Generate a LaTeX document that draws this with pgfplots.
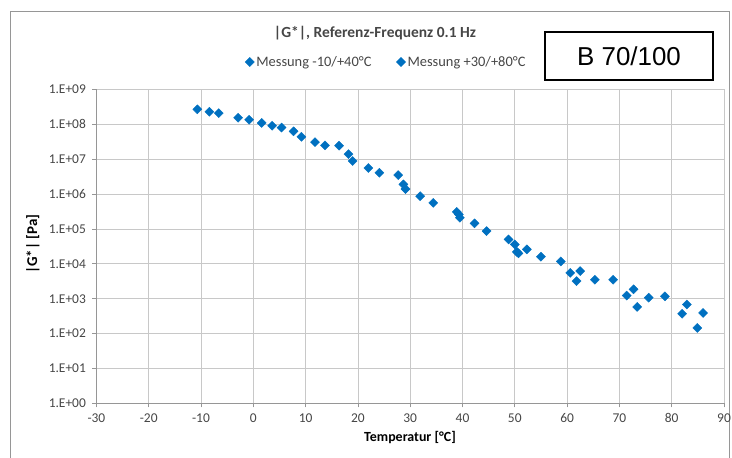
\documentclass[border=0pt]{standalone}
\usepackage{fontspec}
\setmainfont{Carlito}
\newfontfamily\arialfont{Liberation Sans}
\usepackage{pgfplots}
\pgfplotsset{compat=1.18}
\definecolor{mk}{RGB}{0,112,192}
\definecolor{gridc}{RGB}{200,200,200}
\definecolor{axc}{RGB}{150,150,150}
\definecolor{txt}{RGB}{70,70,70}
\begin{document}
\begin{tikzpicture}[x=1bp,y=1bp]
\useasboundingbox (0,0) rectangle (732,458);
\draw[axc, line width=0.9bp] (10,-5) -- (10,447) -- (729,447) -- (729,-5);
\begin{axis}[
  at={(96.4bp,54.7bp)}, anchor=south west,
  scale only axis, width=627.6bp, height=313.8bp,
  xmin=-30, xmax=90, ymode=log, ymin=1, ymax=1e9,
  xtick={-30,-20,...,90},
  ytick={1,10,100,1000,1e4,1e5,1e6,1e7,1e8,1e9},
  yticklabels={1.E+00,1.E+01,1.E+02,1.E+03,1.E+04,1.E+05,1.E+06,1.E+07,1.E+08,1.E+09},
  yminorticks=false,
  grid=major, major grid style={gridc, line width=0.8bp},
  axis lines*=left, axis line style={-, axc, line width=0.8bp},
  tick align=outside, major tick length=4bp, tick style={axc, line width=0.8bp},
  /pgf/number format/assume math mode=true,
  ticklabel style={font=\fontsize{13.5}{15}\selectfont, text=txt},
  xticklabel style={yshift=-3bp},
  yticklabel style={xshift=-3bp},
  legend columns=2,
  legend style={at={(rel axis cs:0.462,1.0876)}, anchor=center, draw=none, fill=none,
    font=\fontsize{14.5}{16}\selectfont, text=txt, /tikz/every even column/.append style={column sep=23bp}},
  legend cell align=left,
  mark size=3.2bp,
]
\addplot[only marks, mark=square*, mark options={rotate=45, fill=mk, draw=mk}] coordinates {
(-10.7,2.7e8) (-8.4,2.3e8) (-6.6,2.1e8) (-2.9,1.55e8) (-0.8,1.35e8)
(1.6,1.1e8) (3.6,9.1e7) (5.4,8.1e7) (7.7,6.3e7) (9.2,4.4e7)
(11.8,3.1e7) (13.7,2.5e7) (16.4,2.45e7) (18.2,1.4e7) (19.0,8.9e6)
(22.0,5.6e6) (24.1,4.1e6) (28.7,1.9e6) (31.9,8.7e5) (34.4,5.6e5)
(39.3,2.6e5)
};
\addlegendentry{Messung -10/+40°C}
\addplot[only marks, mark=square*, mark options={rotate=45, fill=mk, draw=mk}] coordinates {
(27.7,3.5e6) (29.1,1.4e6) (38.9,3.1e5) (39.5,2.1e5) (42.3,1.45e5)
(44.6,8.7e4) (48.8,5.0e4) (50.0,3.6e4) (50.4,2.2e4) (50.7,2.0e4)
(52.3,2.6e4) (55.0,1.6e4) (58.8,1.17e4) (60.6,5.5e3) (62.5,6.2e3)
(61.8,3.2e3) (65.3,3.5e3) (68.8,3.5e3) (71.4,1.23e3) (72.7,1.86e3)
(73.4,5.8e2) (75.6,1.07e3) (78.7,1.17e3) (82.0,3.7e2) (82.9,6.8e2)
(84.9,1.45e2) (86.0,3.9e2)
};
\addlegendentry{Messung +30/+80°C}
\end{axis}
\node[font=\fontsize{15.5}{17}\selectfont\bfseries, text=txt] at (375,425) {|G*|, Referenz-Frequenz 0.1 Hz};
\node[rotate=90, font=\fontsize{15}{17}\selectfont\bfseries] at (33,214) {|G*| [Pa]};
\node[font=\fontsize{14}{16}\selectfont\bfseries] at (410,20) {Temperatur [°C]};
\draw[black, line width=1.2bp] (545,378) rectangle (713,426);
\node[font=\arialfont\fontsize{26}{30}\selectfont] at (629,402) {B 70/100};
\end{tikzpicture}
\end{document}
